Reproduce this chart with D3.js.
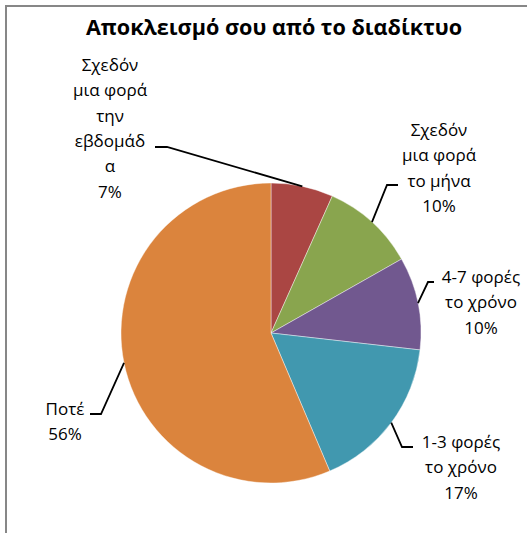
<!DOCTYPE html>
<html>
<head>
<meta charset="utf-8">
<script src="https://cdn.jsdelivr.net/npm/d3@7"></script>
<style>
  html, body { margin: 0; padding: 0; background: #fff; }
  svg { display: block; }
  text { font-family: "Open Sans", "DejaVu Sans", sans-serif; fill: #000; }
</style>
</head>
<body>
<svg id="chart" width="527" height="533"></svg>
<script>
// ---- data ----
const title = "Αποκλεισμό σου από το διαδίκτυο";
const categories = [
  "Σχεδόν μια φορά την εβδομάδα",
  "Σχεδόν μια φορά το μήνα",
  "4-7 φορές το χρόνο",
  "1-3 φορές το χρόνο",
  "Ποτέ"
];
const values = [6.7, 10.1, 10.0, 16.8, 56.4];
const labelLines = [
  ["Σχεδόν", "μια φορά", "την", "εβδομάδ", "α"],
  ["Σχεδόν", "μια φορά", "το μήνα"],
  ["4-7 φορές", "το χρόνο"],
  ["1-3 φορές", "το χρόνο"],
  ["Ποτέ"]
];
const colors = ["#AA4643", "#89A54E", "#71588F", "#4198AF", "#DB843D"];

// ---- layout ----
const W = 527, H = 533;
const cx = 271, cy = 333, R = 150;
const lineH = 25.4;
// label layout: text center x, first baseline y, leader elbow, leader end
const labelLayout = [
  { x: 110, y: 70.7, elbow: [167, 147], end: [155, 147] },
  { x: 439, y: 135.7, elbow: [387, 185], end: [398, 185] },
  { x: 481, y: 283, elbow: [428, 282], end: [434, 282] },
  { x: 461, y: 448, elbow: [402, 447], end: [413, 447] },
  { x: 65, y: 415, elbow: [101, 414], end: [90, 414] }
];

const svg = d3.select("#chart");

// outer chart border
svg.append("rect")
  .attr("x", 6).attr("y", 6)
  .attr("width", W + 20).attr("height", H + 20)
  .attr("fill", "#fff")
  .attr("stroke", "#878787")
  .attr("stroke-width", 2);

// title
svg.append("text")
  .attr("x", cx + 3).attr("y", 35)
  .attr("text-anchor", "middle")
  .style("font-size", "21.6px")
  .style("font-weight", "bold")
  .text(title);

const total = d3.sum(values);
const data = categories.map((c, i) => ({ cat: c, value: values[i], i }));

const pie = d3.pie().value(d => d.value).sort(null)
  .startAngle(0).endAngle(2 * Math.PI);
const arcs = pie(data);

const arc = d3.arc().innerRadius(0).outerRadius(R);
const edgeArc = d3.arc().innerRadius(R).outerRadius(R);

const g = svg.append("g").attr("transform", `translate(${cx},${cy})`);

g.selectAll("path.slice")
  .data(arcs)
  .join("path")
  .attr("class", "slice")
  .attr("d", arc)
  .attr("fill", d => colors[d.data.i])
  .attr("stroke", "rgba(255,255,255,0.6)")
  .attr("stroke-width", 0.7);

// leader lines
const line = d3.line();
svg.selectAll("path.leader")
  .data(arcs)
  .join("path")
  .attr("class", "leader")
  .attr("d", d => {
    const [ex, ey] = edgeArc.centroid(d);
    const L = labelLayout[d.data.i];
    return line([[cx + ex, cy + ey], L.elbow, L.end]);
  })
  .attr("fill", "none")
  .attr("stroke", "#000")
  .attr("stroke-width", 1.8);

// data labels
const fmt = v => Math.round(v / total * 100) + "%";
const labels = svg.selectAll("text.lbl")
  .data(arcs)
  .join("text")
  .attr("class", "lbl")
  .attr("text-anchor", "middle")
  .style("font-size", "17px");

labels.each(function(d) {
  const L = labelLayout[d.data.i];
  const lines = labelLines[d.data.i].concat([fmt(d.data.value)]);
  d3.select(this).selectAll("tspan")
    .data(lines)
    .join("tspan")
    .attr("x", L.x)
    .attr("y", (t, k) => L.y + k * lineH)
    .text(t => t);
});
</script>
</body>
</html>
